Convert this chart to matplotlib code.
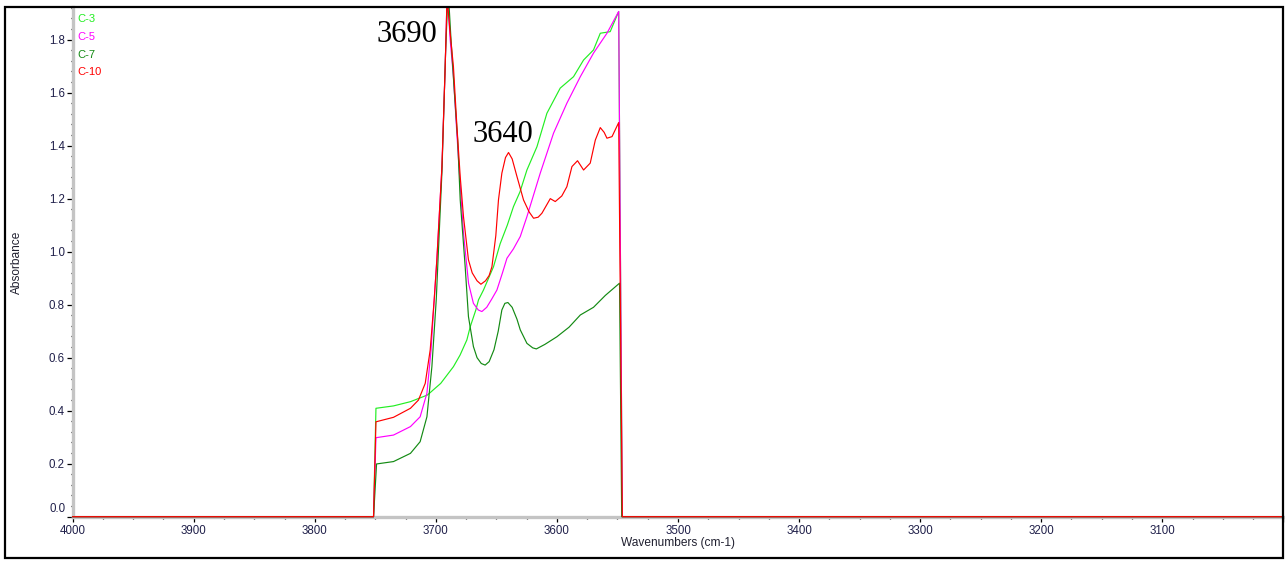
import matplotlib
matplotlib.use("Agg")
import matplotlib.pyplot as plt
from matplotlib.ticker import MultipleLocator, FuncFormatter
from matplotlib.patches import Rectangle

plt.rcParams['font.family'] = ['Liberation Sans', 'DejaVu Sans']

# ---------------- data ----------------
wn_c3 = [4000, 3751.5, 3749.5, 3735, 3721, 3707, 3696, 3685.5, 3680, 3674.4, 3671.6, 3667,
         3664.8, 3660.7, 3652.4, 3646.9, 3641, 3635.9, 3630.5, 3624.8, 3616.5, 3608.3,
         3597.3, 3586.3, 3578, 3569.8, 3564.2, 3556, 3549, 3546, 3000]
a_c3 = [0, 0, 0.409, 0.418, 0.434, 0.459, 0.503, 0.566, 0.61, 0.667, 0.717, 0.78,
        0.818, 0.855, 0.943, 1.03, 1.10, 1.17, 1.226, 1.308, 1.396, 1.522,
        1.617, 1.66, 1.723, 1.761, 1.824, 1.83, 1.906, 0, 0]

wn_c5 = [4000, 3751.5, 3749.5, 3735, 3721, 3713, 3707.4, 3704, 3701.4, 3699.2, 3695, 3692.3,
         3691, 3689.8, 3688.2, 3685.5, 3682.6, 3679.9, 3677.2, 3674.4, 3673, 3669, 3665,
         3662, 3658, 3654, 3649.6, 3645, 3641.3, 3636, 3630.3, 3624.8, 3613.8, 3602.8,
         3591.8, 3580.7, 3569.8, 3558.7, 3549, 3546, 3000]
a_c5 = [0, 0, 0.298, 0.308, 0.34, 0.377, 0.466, 0.629, 0.818, 0.969, 1.32, 1.70,
        1.92, 1.92, 1.80, 1.66, 1.44, 1.25, 1.07, 0.943, 0.88, 0.805, 0.78,
        0.774, 0.79, 0.82, 0.855, 0.92, 0.975, 1.01, 1.057, 1.132, 1.296, 1.447,
        1.56, 1.66, 1.749, 1.824, 1.906, 0, 0]

wn_c7 = [4000, 3751.5, 3749, 3735, 3721, 3713, 3707.4, 3703.3, 3699.7, 3695, 3692, 3690.5,
         3689, 3687.5, 3685, 3682, 3679.9, 3675.8, 3673.1, 3669, 3666, 3662.5, 3659.3,
         3656, 3652, 3648.5, 3645.5, 3643, 3640.5, 3637, 3633, 3630.3, 3624.8, 3620,
         3617, 3610, 3600, 3590, 3580.7, 3569.8, 3560, 3548.3, 3546.5, 3000]
a_c7 = [0, 0, 0.199, 0.208, 0.239, 0.283, 0.377, 0.566, 0.818, 1.30, 1.75, 1.92,
        1.92, 1.80, 1.62, 1.42, 1.195, 0.943, 0.755, 0.642, 0.60, 0.578, 0.572,
        0.585, 0.63, 0.70, 0.78, 0.805, 0.808, 0.79, 0.745, 0.705, 0.654, 0.637,
        0.633, 0.65, 0.679, 0.715, 0.761, 0.79, 0.835, 0.881, 0, 0]

wn_c10 = [4000, 3751.5, 3749.5, 3735, 3721, 3714.4, 3708.8, 3704.7, 3701.4, 3699.2, 3695,
          3692.3, 3691, 3690, 3688.2, 3685.5, 3682.6, 3679.9, 3677.2, 3673.1, 3670, 3666,
          3662.8, 3659, 3656, 3653.7, 3650.5, 3648.3, 3645.5, 3642.5, 3640, 3637, 3633,
          3627.6, 3623, 3619.3, 3615.5, 3612.4, 3608, 3605.5, 3601.4, 3596, 3591.8,
          3587.6, 3583, 3578, 3572.5, 3568.3, 3564.2, 3561, 3558.7, 3554.5, 3549, 3546,
          3000]
a_c10 = [0, 0, 0.358, 0.375, 0.409, 0.44, 0.503, 0.629, 0.818, 0.969, 1.32,
         1.70, 1.92, 1.92, 1.824, 1.698, 1.47, 1.283, 1.132, 0.969, 0.92, 0.89,
         0.877, 0.89, 0.91, 0.943, 1.06, 1.195, 1.296, 1.355, 1.374, 1.35, 1.283,
         1.195, 1.15, 1.126, 1.13, 1.145, 1.18, 1.20, 1.189, 1.21, 1.245,
         1.321, 1.343, 1.308, 1.334, 1.421, 1.468, 1.45, 1.428, 1.434, 1.487, 0,
         0]

series_names = ['C-3', 'C-5', 'C-7', 'C-10']
series_colors = ['#22ee22', '#ff00ff', '#138a13', '#ff0000']
series_x = [wn_c3, wn_c5, wn_c7, wn_c10]
series_y = [a_c3, a_c5, a_c7, a_c10]

peak_labels = ['3690', '3640']
peak_label_pos = [(3724.2, 1.792), (3644.7, 1.415)]

# ---------------- figure ----------------
W, H = 1285, 561
fig = plt.figure(figsize=(W / 100, H / 100), dpi=100)
ax_l, ax_r, ax_t, ax_b = 72.7, 1283.3, 7, 516.7
ax = fig.add_axes([ax_l / W, (H - ax_b) / H, (ax_r - ax_l) / W, (ax_b - ax_t) / H])

for xs, ys, c in zip(series_x, series_y, series_colors):
    ax.plot(xs, ys, color=c, lw=0.85, clip_on=False, zorder=3)

ax.set_xlim(4000, 3000)
ax.set_ylim(0, 1.923)

ax.xaxis.set_major_locator(MultipleLocator(100))
ax.xaxis.set_minor_locator(MultipleLocator(25))
ax.yaxis.set_major_locator(MultipleLocator(0.2))
ax.yaxis.set_minor_locator(MultipleLocator(0.04))

ax.xaxis.set_major_formatter(FuncFormatter(lambda v, p: '' if v <= 3000.5 else f'{v:.0f}'))
ax.yaxis.set_major_formatter(FuncFormatter(lambda v, p: '' if abs(v) < 1e-9 else f'{v:.1f}'))

tick_col = '#20204a'
ax.tick_params(axis='x', which='major', direction='out', length=3.4, width=0.9,
               pad=2.4, labelsize=8.3, labelcolor=tick_col, color='black')
ax.tick_params(axis='y', which='major', direction='out', length=4.5, width=0.9,
               pad=1.2, labelsize=8.3, labelcolor=tick_col, color='black')
ax.tick_params(which='minor', direction='out', length=1.6, width=0.9, color='black')

for s in ['top', 'right']:
    ax.spines[s].set_visible(False)
for s in ['left', 'bottom']:
    ax.spines[s].set_color('#c4c4c4')
    ax.spines[s].set_linewidth(2.4)

# shifted "0.0" label, as in the reference
ax.annotate('0.0', xy=(0, 0), xycoords=('axes fraction', 'data'),
            xytext=(-5.0, 5.3), textcoords='offset points', ha='right', va='center',
            fontsize=8.3, color=tick_col)

ax.set_xlabel('Wavenumbers (cm-1)', fontsize=8.6, color='#202030')
ax.set_ylabel('Absorbance', fontsize=8.6, color='#202030')
ax.xaxis.label.set_va('center')
ax.yaxis.label.set_va('center')
ax.xaxis.set_label_coords(0.5, (ax_b - 542.7) / (ax_b - ax_t))
ax.yaxis.set_label_coords((17 - ax_l) / (ax_r - ax_l), 0.5)

# legend-like labels
leg_dy = [-8.6, -21.4, -34.2, -47.0]
for name, c, dy in zip(series_names, series_colors, leg_dy):
    ax.annotate(name, xy=(0, 1), xycoords='axes fraction', xytext=(3.1, dy),
                textcoords='offset points', ha='left', va='center', fontsize=8, color=c)

for lab, (px, py) in zip(peak_labels, peak_label_pos):
    ax.text(px, py, lab, ha='center', va='baseline', fontsize=22,
            family=['Liberation Serif', 'DejaVu Serif'], color='black', zorder=5)

# outer frame
fig.patches.append(Rectangle((5 / W, (H - 558) / H), (1283 - 5) / W, (558 - 7) / H,
                             fill=False, lw=1.6, ec='black', transform=fig.transFigure,
                             figure=fig, zorder=10))

fig.savefig('out.png', dpi=100)
